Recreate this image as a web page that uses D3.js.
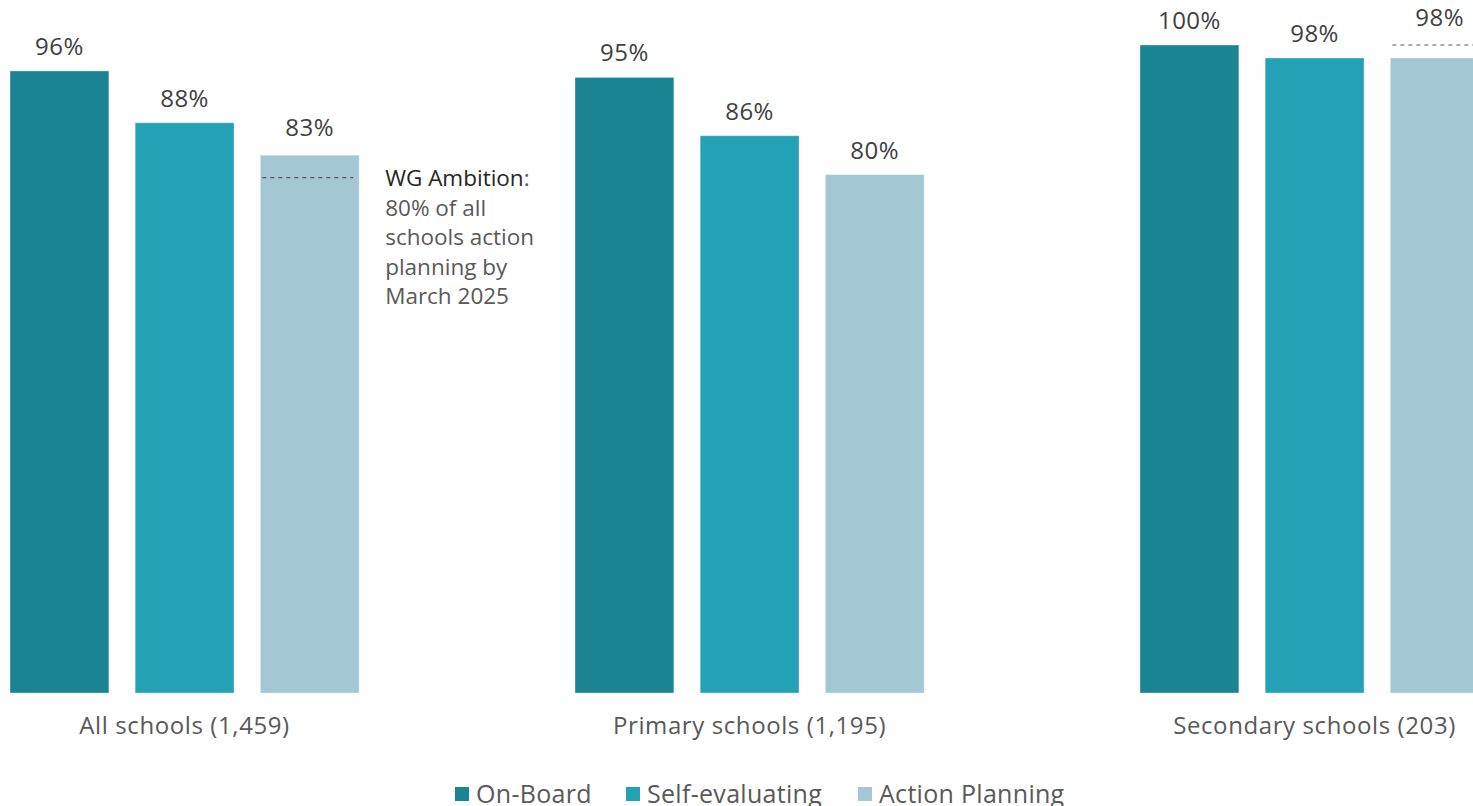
<html lang="en">
<head>
<meta charset="utf-8">
<title>WG Ambition</title>
<style>
  body { margin: 0; padding: 0; background: white; overflow: hidden; }
  svg { display: block; font-family: "Open Sans", "Noto Sans", sans-serif; }
  .val { font-size: 24px; fill: #404040; text-anchor: middle; letter-spacing: 0.5px; }
  .cat { font-size: 24px; fill: #595959; text-anchor: middle; letter-spacing: 0.6px; }
  .note { font-size: 22.5px; fill: #595959; }
  .legend text { font-size: 25px; fill: #595959; letter-spacing: 0.3px; }
</style>
</head>
<body>
<div id="chart"></div>
<script src="https://d3js.org/d3.v7.min.js"></script>
<script>
// data
var groups = ["All schools (1,459)", "Primary schools (1,195)", "Secondary schools (203)"];
var series = ["On-Board", "Self-evaluating", "Action Planning"];
var onBoard = [96, 95, 100];
var selfEval = [88, 86, 98];
var actionPlan = [83, 80, 98];
var ambition = [80, null, 100];
var noteLines = ["80% of all", "schools action", "planning by", "March 2025"];
var colors = ["#1b8492", "#23a2b6", "#a3c8d3"];

var width = 1473, height = 806;
var baseY = 693, topY = 45;

var svg = d3.select("#chart").append("svg")
    .attr("width", width).attr("height", height);

var x0 = d3.scaleBand()
    .domain(groups)
    .range([10, 10 + 565 * (3 - 0.382)])
    .paddingInner(0.382)
    .paddingOuter(0);

var x1 = d3.scaleBand()
    .domain(series)
    .range([0, x0.bandwidth()])
    .paddingInner(0.21);

var y = d3.scaleLinear().domain([0, 100]).range([baseY, topY]);

var color = d3.scaleOrdinal().domain(series).range(colors);

var table = groups.map(function(g, i) {
  return {
    group: g,
    target: ambition[i],
    values: [
      { key: series[0], v: onBoard[i] },
      { key: series[1], v: selfEval[i] },
      { key: series[2], v: actionPlan[i], target: ambition[i] }
    ]
  };
});

var g = svg.selectAll("g.grp")
    .data(table)
  .enter().append("g")
    .attr("class", "grp")
    .attr("transform", function(d) { return "translate(" + x0(d.group) + ",0)"; });

g.selectAll("rect")
    .data(function(d) { return d.values; })
  .enter().append("rect")
    .attr("x", function(d) { return x1(d.key); })
    .attr("y", function(d) { return y(d.v); })
    .attr("width", x1.bandwidth())
    .attr("height", function(d) { return baseY - y(d.v); })
    .attr("fill", function(d) { return color(d.key); })
    .attr("stroke", "rgba(255,255,255,0.35)")
    .attr("stroke-width", 1);

// labels sit a bit higher when an ambition line is drawn on the bar
g.selectAll("text.val")
    .data(function(d) { return d.values; })
  .enter().append("text")
    .attr("class", "val")
    .attr("x", function(d) { return x1(d.key) + x1.bandwidth() / 2; })
    .attr("y", function(d) {
      if (d.target != null) return Math.min(y(d.v), y(d.target)) - 19;
      return y(d.v) - 16;
    })
    .text(function(d) { return d.v + "%"; });

// ambition dashed lines on action planning bar
g.filter(function(d) { return d.target != null; })
  .append("line")
    .attr("x1", x1(series[2]) + 2)
    .attr("x2", x1(series[2]) + x1.bandwidth() - 6)
    .attr("y1", function(d) { return y(d.target) + (d.target < 100 ? 3 : 0); })
    .attr("y2", function(d) { return y(d.target) + (d.target < 100 ? 3 : 0); })
    .attr("stroke", "#595959")
    .attr("stroke-width", 1.2)
    .attr("stroke-dasharray", "4,4");

// group labels
svg.selectAll("text.cat")
    .data(groups)
  .enter().append("text")
    .attr("class", "cat")
    .attr("x", function(d) { return x0(d) + x0.bandwidth() / 2; })
    .attr("y", 734)
    .text(function(d) { return d; });

// annotation
var noteX = x0(groups[0]) + x0.bandwidth() + 26;
var note = svg.append("text").attr("class", "note").attr("x", noteX).attr("y", 186);
note.append("tspan").attr("fill", "#262626").text("WG Ambition");
note.append("tspan").text(":");
svg.selectAll("text.noteline")
    .data(noteLines)
  .enter().append("text")
    .attr("class", "note")
    .attr("x", noteX)
    .attr("y", function(d, i) { return 216 + i * 29.3; })
    .text(function(d) { return d; });

// legend
var legendX = [455, 626, 858];
var legend = svg.append("g").attr("class", "legend");
var item = legend.selectAll("g")
    .data(series)
  .enter().append("g")
    .attr("transform", function(d, i) { return "translate(" + legendX[i] + ",787)"; });
item.append("rect")
    .attr("width", 14).attr("height", 14)
    .attr("fill", function(d) { return color(d); });
item.append("text")
    .attr("x", 21).attr("y", 16)
    .text(function(d) { return d; });
</script>
</body>
</html>
